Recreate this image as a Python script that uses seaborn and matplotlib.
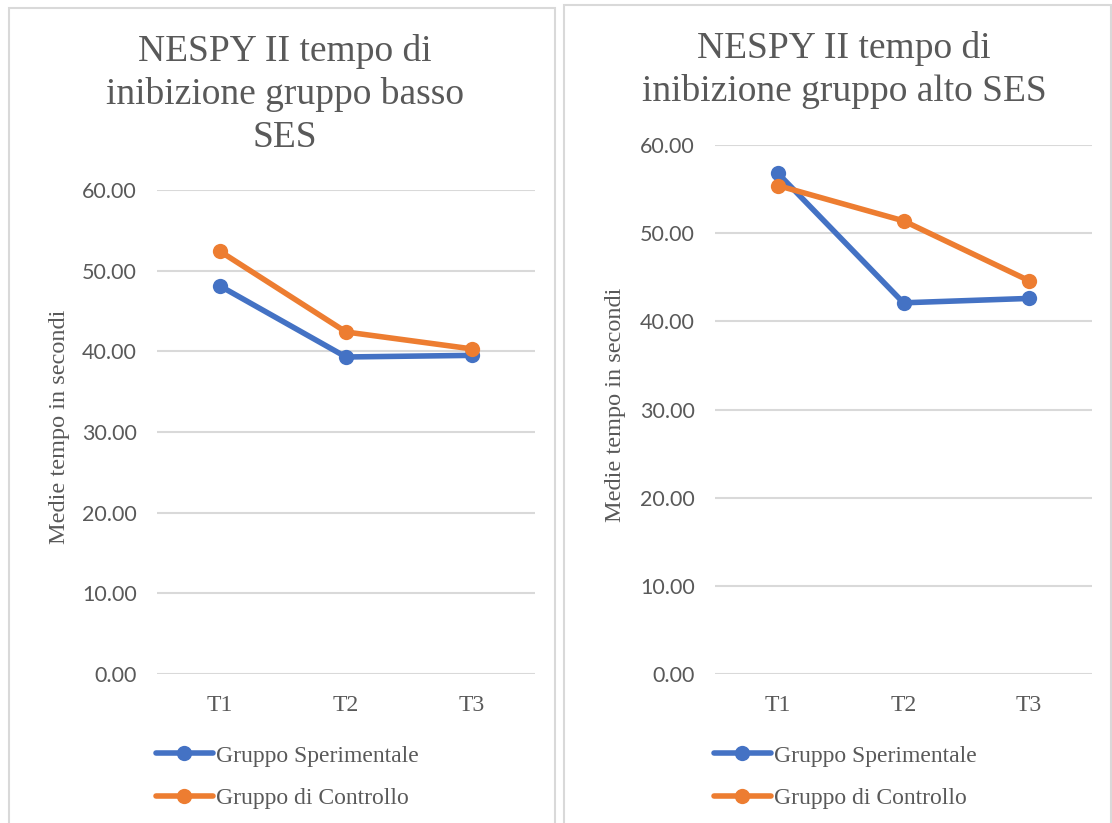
import matplotlib
matplotlib.use("Agg")
import matplotlib.pyplot as plt
import seaborn as sns
import pandas as pd
from matplotlib.patches import Rectangle

# ---- data ----
times = ["T1", "T2", "T3"]
groups = ["Gruppo Sperimentale", "Gruppo di Controllo"]
basso_sper = [48.1, 39.3, 39.5]
basso_ctrl = [52.4, 42.4, 40.3]
alto_sper = [56.8, 42.1, 42.6]
alto_ctrl = [55.4, 51.4, 44.6]
yticks = [0, 10, 20, 30, 40, 50, 60]
titles = ["NESPY II tempo di\ninibizione gruppo basso\nSES",
          "NESPY II tempo di\ninibizione gruppo alto SES"]
ylabel = "Medie tempo in secondi"

colors = {"Gruppo Sperimentale": "#4472C4", "Gruppo di Controllo": "#ED7D31"}
TEXT = "#595959"
GRID = "#D9D9D9"
SERIF = "Liberation Serif"
SANS = "Lato"

sns.set_theme(style="white")

W, H = 1112, 823
fig = plt.figure(figsize=(W / 100, H / 100), dpi=100)
fig.patch.set_facecolor("white")

def fx(px):
    return px / W

def fy(py):
    return 1 - py / H

# panel borders
for (x0, x1, y0) in [(9, 555, 8), (564, 1111, 5)]:
    fig.patches.append(Rectangle((fx(x0), fy(H + 5)), fx(x1 - x0), (H + 5 - y0) / H,
                                 transform=fig.transFigure, fill=False,
                                 edgecolor=GRID, linewidth=1.5))

panels = [
    dict(sper=basso_sper, ctrl=basso_ctrl, ax=(157, 535, 190, 674), title=titles[0],
         tx=285, ylx=59, ty=34),
    dict(sper=alto_sper, ctrl=alto_ctrl, ax=(715, 1092, 145, 674), title=titles[1],
         tx=844, ylx=616, ty=31),
]

for p in panels:
    x0, x1, y0, y1 = p["ax"]
    ax = fig.add_axes([fx(x0), fy(y1), fx(x1 - x0), (y1 - y0) / H])
    df = pd.DataFrame({
        "Tempo": times * 2,
        "Valore": list(p["sper"]) + list(p["ctrl"]),
        "Gruppo": [groups[0]] * 3 + [groups[1]] * 3,
    })
    sns.lineplot(data=df, x="Tempo", y="Valore", hue="Gruppo", hue_order=groups,
                 palette=colors, marker="o", markersize=11, markeredgewidth=0,
                 linewidth=4, sort=False, ax=ax, zorder=3)
    ax.set_xlim(-0.5, 2.5)
    ax.set_ylim(0, 60)
    ax.set_yticks(yticks)
    ax.set_yticklabels([f"{v:.2f}" for v in yticks], fontfamily=SANS,
                       fontsize=15.5, color=TEXT)
    ax.set_xticks(range(len(times)))
    ax.set_xticklabels(times, fontfamily=SERIF, fontsize=17, color=TEXT)
    ax.tick_params(axis="both", length=0)
    ax.tick_params(axis="y", pad=14.5)
    ax.tick_params(axis="x", pad=15)
    ax.grid(axis="y", color=GRID, linewidth=1.5, zorder=0)
    ax.set_axisbelow(True)
    for s in ax.spines.values():
        s.set_visible(False)
    ax.set_xlabel("")
    ax.set_ylabel("")
    fig.text(fx(p["ylx"]), fy((y0 + y1) / 2 - 5), ylabel, rotation=90, ha="center",
             va="center", fontfamily=SERIF, fontsize=17.5, color=TEXT)
    fig.text(fx(p["tx"]), fy(p["ty"]), p["title"], ha="center", va="top",
             fontfamily=SERIF, fontsize=27, color=TEXT, linespacing=1.3)
    handles, labels = ax.get_legend_handles_labels()
    ax.legend(handles, labels, loc="upper left",
              bbox_to_anchor=(fx(x0 - 1), fy(745)), bbox_transform=fig.transFigure,
              frameon=False, prop={"family": SERIF, "size": 17},
              labelcolor=TEXT, handlelength=2.4, handletextpad=0.15,
              labelspacing=0.88, borderaxespad=0, borderpad=0)

fig.savefig("out.png", dpi=100, facecolor="white")
